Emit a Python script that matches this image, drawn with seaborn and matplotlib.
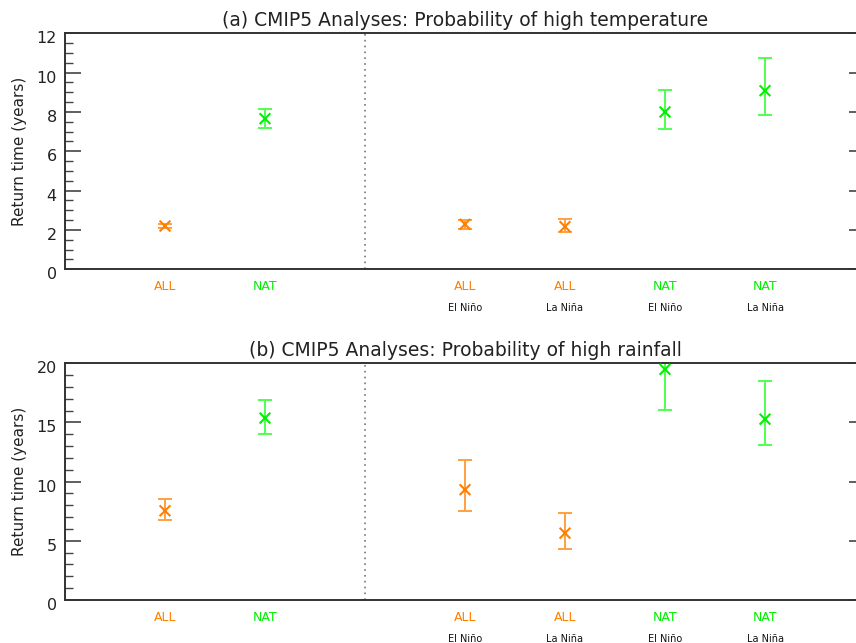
import numpy as np
import pandas as pd
import matplotlib
matplotlib.use('Agg')
import matplotlib.pyplot as plt
import matplotlib.transforms as mtransforms
from matplotlib.ticker import MultipleLocator
import seaborn as sns

# Data
groups = ['ALL', 'NAT']
phases = ['El Niño', 'La Niña']

# (a) high temperature return times (years)
temp_clim = [2.2, 7.66]
temp_clim_lo = [2.1, 7.17]
temp_clim_hi = [2.3, 8.17]
temp_enso = [2.29, 2.17, 8.0, 9.08]        # ALL El, ALL La, NAT El, NAT La
temp_enso_lo = [2.05, 1.88, 7.13, 7.83]
temp_enso_hi = [2.5, 2.54, 9.11, 10.73]

# (b) high rainfall return times (years)
rain_clim = [7.54, 15.37]
rain_clim_lo = [6.75, 14.04]
rain_clim_hi = [8.56, 16.86]
rain_enso = [9.32, 5.65, 19.49, 15.28]
rain_enso_lo = [7.54, 4.29, 16.07, 13.08]
rain_enso_hi = [11.81, 7.37, 23.0, 18.47]

titles = ['(a) CMIP5 Analyses: Probability of high temperature',
          '(b) CMIP5 Analyses: Probability of high rainfall']
ylims = [12, 20]
major_steps = [2, 5]
minor_steps = [0.5, 1]

colors = {'ALL': '#ff8000', 'NAT': '#00f000'}
bar_colors = {'ALL': '#ffa040', 'NAT': '#50ff50'}

sns.set_style('ticks')
plt.rcParams['font.family'] = ['DejaVu Sans']


def build_frame(clim, clim_lo, clim_hi, enso, enso_lo, enso_hi):
    rows = []
    for i, g in enumerate(groups):
        rows.append({'group': g, 'phase': '', 'pos': i + 1,
                     'value': clim[i], 'lo': clim_lo[i], 'hi': clim_hi[i]})
    k = 0
    for i, g in enumerate(groups):
        for j, p in enumerate(phases):
            rows.append({'group': g, 'phase': p, 'pos': 4 + k,
                         'value': enso[k], 'lo': enso_lo[k], 'hi': enso_hi[k]})
            k += 1
    return pd.DataFrame(rows)


frames = [build_frame(temp_clim, temp_clim_lo, temp_clim_hi,
                      temp_enso, temp_enso_lo, temp_enso_hi),
          build_frame(rain_clim, rain_clim_lo, rain_clim_hi,
                      rain_enso, rain_enso_lo, rain_enso_hi)]

fig = plt.figure(figsize=(8.56, 6.43), dpi=100)
axes = [fig.add_axes([65 / 856, (643 - 269.3) / 643, 800 / 856, 236 / 643]),
        fig.add_axes([65 / 856, (643 - 600) / 643, 800 / 856, 236.7 / 643])]

for ax, df, title, ytop, mj, mn in zip(axes, frames, titles, ylims, major_steps, minor_steps):
    for _, r in df.iterrows():
        ax.errorbar(r['pos'], r['value'],
                    yerr=[[r['value'] - r['lo']], [r['hi'] - r['value']]],
                    fmt='none', ecolor=bar_colors[r['group']], elinewidth=1.4,
                    capsize=5, capthick=1.4, zorder=2)
    sns.scatterplot(data=df, x='pos', y='value', hue='group', palette=colors,
                    marker='x', s=60, linewidth=1.5, legend=False, ax=ax, zorder=3)

    ax.axvline(3, ls=(0, (1, 2.5)), color='#777777', lw=1.2, zorder=1)
    ax.set_xlim(0, 8)
    ax.set_ylim(0, ytop)
    ax.yaxis.set_major_locator(MultipleLocator(mj))
    ax.yaxis.set_minor_locator(MultipleLocator(mn))
    ax.tick_params(axis='y', which='major', direction='in', length=11.5,
                   width=1.2, color='#444444', left=True, right=True,
                   labelsize=11.5, labelcolor='#222222', pad=6)
    ax.tick_params(axis='y', which='minor', direction='in', length=5.8,
                   width=1.0, color='#444444', left=True, right=False)
    for lab in ax.get_yticklabels():
        lab.set_transform(lab.get_transform() +
                          mtransforms.ScaledTranslation(0, -4 / 100, fig.dpi_scale_trans))

    ax.set_xticks(df['pos'])
    ax.set_xticklabels(df['group'])
    ax.tick_params(axis='x', length=0, pad=8, labelsize=9)
    for lab, g in zip(ax.get_xticklabels(), df['group']):
        lab.set_color(colors[g])
    trans = mtransforms.blended_transform_factory(ax.transData, ax.transAxes)
    for _, r in df.iterrows():
        if r['phase']:
            ax.text(r['pos'], -39 / 236, r['phase'], transform=trans,
                    ha='center', va='center', fontsize=7, color='#111111')

    ax.set_xlabel('')
    ax.set_ylabel('Return time (years)', fontsize=11, color='#222222')
    ax.yaxis.set_label_coords(-0.048, 0.5)
    ax.set_title(title, fontsize=13.5, color='#222222', pad=5)
    for s in ax.spines.values():
        s.set_color('#333333')
        s.set_linewidth(1.4)

fig.savefig('out.png', dpi=100)
